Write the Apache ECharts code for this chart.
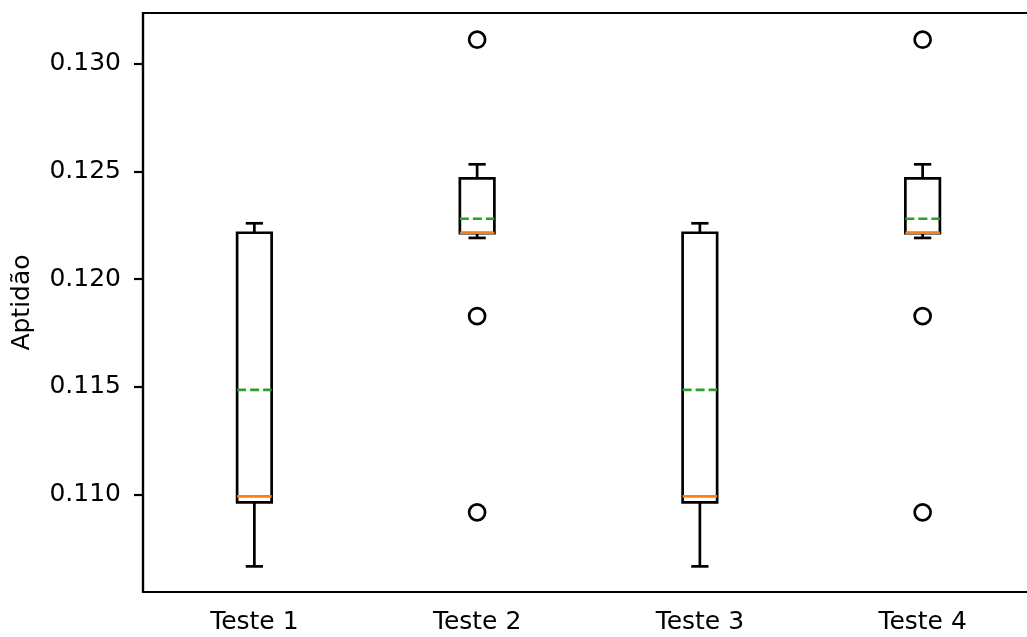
<!DOCTYPE html>
<html>
<head>
<meta charset="utf-8">
<script src="https://cdn.jsdelivr.net/npm/echarts@6/dist/echarts.min.js"></script>
<style>
  html, body { margin: 0; padding: 0; background: #fff; }
  #chart { width: 1027px; height: 637px; }
</style>
</head>
<body>
<div id="chart"></div>
<script>
// dados dos boxplots
const categories = ['Teste 1', 'Teste 2', 'Teste 3', 'Teste 4'];
const whiskerLow  = [0.10665, 0.12191, 0.10665, 0.12191];
const q1          = [0.10962, 0.12213, 0.10962, 0.12213];
const medians     = [0.10990, 0.12215, 0.10990, 0.12215];
const q3          = [0.12215, 0.12468, 0.12215, 0.12468];
const whiskerHigh = [0.12259, 0.12533, 0.12259, 0.12533];
const means       = [0.11485, 0.12280, 0.11485, 0.12280];
// outliers: [indice da categoria, valor]
const outliers = [
  [1, 0.13112], [1, 0.11828], [1, 0.10916],
  [3, 0.13112], [3, 0.11828], [3, 0.10916]
];
const yTicks = [0.110, 0.115, 0.120, 0.125, 0.130];

const boxData = categories.map((c, i) =>
  [i, whiskerLow[i], q1[i], medians[i], q3[i], whiskerHigh[i], means[i]]);

const FONT = 'DejaVu Sans';
const LW = 2.7;

function renderBox(params, api) {
  const i = api.value(0);
  const band = api.size([1, 0])[0];
  const half = band * 0.155 / 2;
  const capHalf = half / 2;
  const pLow = api.coord([i, api.value(1)]);
  const pQ1 = api.coord([i, api.value(2)]);
  const pMed = api.coord([i, api.value(3)]);
  const pQ3 = api.coord([i, api.value(4)]);
  const pHigh = api.coord([i, api.value(5)]);
  const pMean = api.coord([i, api.value(6)]);
  const cx = pQ1[0];
  const black = { stroke: '#000', lineWidth: LW, fill: null };
  return {
    type: 'group',
    children: [
      { type: 'line', shape: { x1: cx, y1: pLow[1], x2: cx, y2: pQ1[1] }, style: black },
      { type: 'line', shape: { x1: cx, y1: pQ3[1], x2: cx, y2: pHigh[1] }, style: black },
      { type: 'line', shape: { x1: cx - capHalf, y1: pLow[1], x2: cx + capHalf, y2: pLow[1] }, style: black },
      { type: 'line', shape: { x1: cx - capHalf, y1: pHigh[1], x2: cx + capHalf, y2: pHigh[1] }, style: black },
      { type: 'rect', shape: { x: cx - half, y: pQ3[1], width: half * 2, height: pQ1[1] - pQ3[1] },
        style: { stroke: '#000', lineWidth: LW, fill: 'rgba(0,0,0,0)' } },
      { type: 'line', shape: { x1: cx - half, y1: pMed[1], x2: cx + half, y2: pMed[1] },
        style: { stroke: '#ff7f0e', lineWidth: LW } },
      { type: 'line', shape: { x1: cx - half, y1: pMean[1], x2: cx + half, y2: pMean[1] },
        style: { stroke: '#2ca02c', lineWidth: LW, lineDash: [9, 4] } }
    ]
  };
}

const chart = echarts.init(document.getElementById('chart'), null, { renderer: 'canvas' });
chart.setOption({
  animation: false,
  backgroundColor: '#fff',
  textStyle: { fontFamily: FONT },
  grid: {
    left: 143, top: 13, width: 891, height: 579,
    outerBoundsMode: 'none',
    containLabel: false,
    show: true, borderColor: '#000', borderWidth: 2.2, backgroundColor: 'transparent'
  },
  xAxis: {
    type: 'category',
    data: categories,
    boundaryGap: true,
    axisLine: { lineStyle: { color: '#000', width: 2.2 } },
    axisTick: { alignWithLabel: true, length: 9, lineStyle: { color: '#000', width: 2.2 } },
    axisLabel: { color: '#000', fontSize: 25, fontFamily: FONT, margin: 18 },
    splitLine: { show: false }
  },
  yAxis: {
    type: 'value',
    min: 0.10546,
    max: 0.13236,
    name: 'Aptidão',
    nameLocation: 'middle',
    nameRotate: 90,
    nameGap: 108,
    nameTextStyle: { color: '#000', fontSize: 25, fontFamily: FONT },
    axisLine: { show: true, lineStyle: { color: '#000', width: 2.2 } },
    axisTick: { show: true, length: 9, customValues: yTicks, lineStyle: { color: '#000', width: 2.2 } },
    axisLabel: {
      color: '#000', fontSize: 25, fontFamily: FONT, margin: 22,
      customValues: yTicks,
      formatter: v => v.toFixed(3)
    },
    splitLine: { show: false }
  },
  series: [
    {
      type: 'custom',
      renderItem: renderBox,
      data: boxData,
      encode: { x: 0, y: [1, 2, 3, 4, 5] },
      z: 3
    },
    {
      type: 'scatter',
      data: outliers,
      symbol: 'circle',
      symbolSize: 16,
      itemStyle: { color: 'rgba(0,0,0,0)', borderColor: '#000', borderWidth: LW, opacity: 1 },
      z: 4
    }
  ]
});
</script>
</body>
</html>
